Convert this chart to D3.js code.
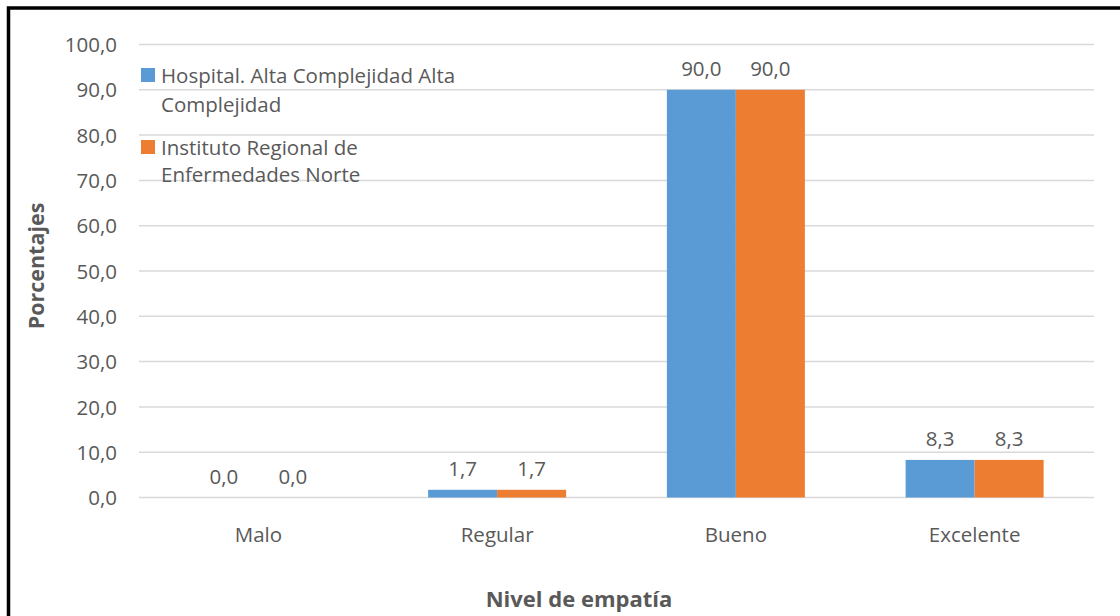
<!DOCTYPE html>
<html><head><meta charset="utf-8">
<script src="https://cdn.jsdelivr.net/npm/d3@7/dist/d3.min.js"></script>
<style>
html,body{margin:0;padding:0;background:#fff;}
svg{display:block;}
text{font-family:"Open Sans",sans-serif;fill:#595959;}
</style></head>
<body>
<svg id="chart" width="1120" height="616"></svg>
<script>
const categories = ["Malo", "Regular", "Bueno", "Excelente"];
const seriesNames = ["Hospital. Alta Complejidad Alta Complejidad", "Instituto Regional de Enfermedades Norte"];
const hospitalValues = [0.0, 1.7, 90.0, 8.3];
const institutoValues = [0.0, 1.7, 90.0, 8.3];
const yTicks = [0, 10, 20, 30, 40, 50, 60, 70, 80, 90, 100];
const colors = ["#5B9BD5", "#ED7D31"];

const svg = d3.select("#chart");
const W = 1120, H = 616;
const plot = {left: 139, right: 1094, top: 44.5, bottom: 497.5};
const FS = 20.5;

// frame
svg.append("rect").attr("x", 8.5).attr("y", 8).attr("width", W + 20).attr("height", H + 20)
  .attr("fill", "none").attr("stroke", "#000").attr("stroke-width", 3.5);

const x0 = d3.scaleBand().domain(categories).range([plot.left, plot.right])
  .paddingInner(0.422).paddingOuter(0.211);
const x1 = d3.scaleBand().domain([0, 1]).range([0, x0.bandwidth()]);
const y = d3.scaleLinear().domain([0, 100]).range([plot.bottom, plot.top]);

// gridlines
svg.append("g").selectAll("line").data(yTicks).join("line")
  .attr("x1", plot.left).attr("x2", plot.right)
  .attr("y1", d => y(d)).attr("y2", d => y(d))
  .attr("stroke", "#D9D9D9").attr("stroke-width", 1.5);

// y axis labels
const yAxis = d3.axisLeft(y).tickValues(yTicks).tickSize(0).tickPadding(0)
  .tickFormat(d => d3.format(".1f")(d).replace(".", ","));
const ya = svg.append("g").attr("transform", `translate(117,0)`).call(yAxis);
ya.select(".domain").remove();
ya.selectAll("text").attr("font-size", FS).attr("font-family", "Open Sans").attr("fill", "#595959").attr("dy", "0.35em");

// x axis labels
const xAxis = d3.axisBottom(x0).tickSize(0).tickPadding(0);
const xa = svg.append("g").attr("transform", `translate(0,${plot.bottom})`).call(xAxis);
xa.select(".domain").remove();
xa.selectAll("text").attr("font-size", FS).attr("font-family", "Open Sans").attr("fill", "#595959")
  .attr("dy", null).attr("y", 44);

// bars
const data = categories.map((c, i) => ({cat: c, vals: [hospitalValues[i], institutoValues[i]]}));
const groups = svg.append("g").selectAll("g").data(data).join("g")
  .attr("transform", d => `translate(${x0(d.cat)},0)`);
groups.selectAll("rect").data(d => d.vals.map((v, k) => ({v, k}))).join("rect")
  .attr("x", d => x1(d.k)).attr("width", x1.bandwidth())
  .attr("y", d => y(d.v)).attr("height", d => y(0) - y(d.v))
  .attr("fill", d => colors[d.k]);
groups.selectAll("text").data(d => d.vals.map((v, k) => ({v, k}))).join("text")
  .attr("x", d => x1(d.k) + x1.bandwidth() / 2)
  .attr("y", d => y(d.v) - 14)
  .attr("text-anchor", "middle").attr("font-size", FS)
  .text(d => d3.format(".1f")(d.v).replace(".", ","));

// legend
const legend = svg.append("g");
const legendItems = [
  {k: 0, sq: 68, lines: ["Hospital. Alta Complejidad Alta", "Complejidad"], base: [83, 112]},
  {k: 1, sq: 140, lines: ["Instituto Regional de", "Enfermedades Norte"], base: [155, 182]}
];
legendItems.forEach(it => {
  legend.append("rect").attr("x", 141).attr("y", it.sq).attr("width", 14).attr("height", 14).attr("fill", colors[it.k]);
  it.lines.forEach((ln, j) => {
    legend.append("text").attr("x", 161).attr("y", it.base[j]).attr("font-size", FS).text(ln);
  });
});

// axis titles
svg.append("text").attr("transform", `translate(44,${(plot.top + plot.bottom) / 2 - 5}) rotate(-90)`)
  .attr("text-anchor", "middle").attr("font-size", 21.5).attr("font-weight", "bold").text("Porcentajes");
svg.append("text").attr("x", 579).attr("y", 607).attr("text-anchor", "middle")
  .attr("font-size", 22).attr("font-weight", "bold").text("Nivel de empatía");
</script>
</body></html>
